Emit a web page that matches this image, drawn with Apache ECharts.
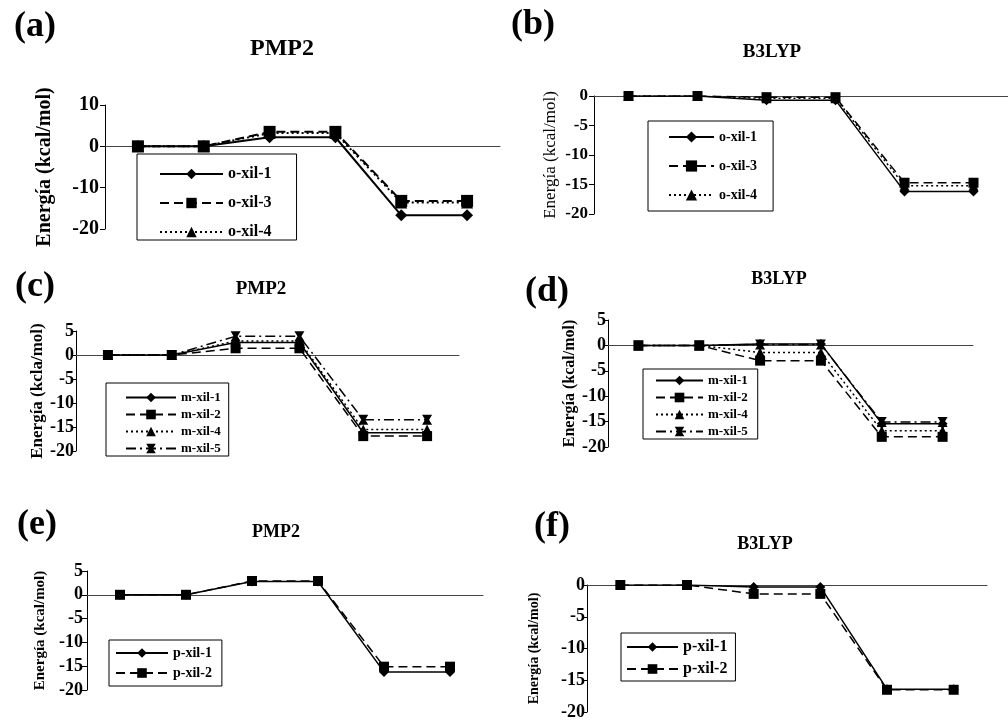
<!DOCTYPE html>
<html>
<head>
<meta charset="utf-8">
<script src="https://cdn.jsdelivr.net/npm/echarts@6/dist/echarts.min.js"></script>
<style>
html,body{margin:0;padding:0;background:#fff;}
#chart{width:1008px;height:721px;}
</style>
</head>
<body>
<div id="chart"></div>
<script>
// ---- data ----
var categories = ['1', '2', '3', '4', '5', '6'];

var a_oxil1 = [0, 0, 2.2, 2.2, -16.7, -16.7];
var a_oxil3 = [0, 0, 3.5, 3.5, -13.2, -13.2];
var a_oxil4 = [0, 0, 3.2, 3.2, -13.6, -13.6];

var b_oxil1 = [0, 0, -0.7, -0.7, -16.2, -16.2];
var b_oxil3 = [0, 0, -0.2, -0.2, -14.7, -14.7];
var b_oxil4 = [0, 0, -0.4, -0.4, -15.2, -15.2];

var c_mxil1 = [0, 0, 2.6, 2.6, -16.2, -16.2];
var c_mxil2 = [0, 0, 1.4, 1.4, -16.9, -16.9];
var c_mxil4 = [0, 0, 2.9, 2.9, -15.5, -15.5];
var c_mxil5 = [0, 0, 3.9, 3.9, -13.5, -13.5];

var d_mxil1 = [0, 0, 0.3, 0.3, -15.4, -15.4];
var d_mxil2 = [0, 0, -3.0, -3.0, -18.0, -18.0];
var d_mxil4 = [0, 0, -1.4, -1.4, -16.8, -16.8];
var d_mxil5 = [0, 0, 0.2, 0.2, -15.1, -15.1];

var e_pxil1 = [0, 0, 2.8, 2.8, -16.2, -16.2];
var e_pxil2 = [0, 0, 2.9, 2.9, -15.1, -15.1];

var f_pxil1 = [0, 0, -0.3, -0.3, -16.4, -16.4];
var f_pxil2 = [0, 0, -1.4, -1.4, -16.5, -16.5];

// y-axis ranges [min, max, interval]
var aRange = [-20, 10, 10];
var bRange = [-20, 0, 5];
var cRange = [-20, 5, 5];
var dRange = [-20, 5, 5];
var eRange = [-20, 5, 5];
var fRange = [-20, 0, 5];

var panelLabels = ['(a)', '(b)', '(c)', '(d)', '(e)', '(f)'];
var panelTitles = ['PMP2', 'B3LYP', 'PMP2', 'B3LYP', 'PMP2', 'B3LYP'];
var yNames = ['Energía (kcal/mol)', 'Energía (kcal/mol)', 'Energía (kcla/mol)',
              'Energía (kcal/mol)', 'Energía (kcal/mol)', 'Energía (kcal/mol)'];

// ---- styles ----
var FONT = '"Liberation Serif", "DejaVu Serif", serif';
var STAR = 'path://M0,0 L10,0 L7,5 L10,10 L0,10 L3,5 Z';
var styleSolidDiamond = {symbol: 'diamond', type: 'solid'};
var styleDashSquare = {symbol: 'rect', type: [9, 5]};
var styleDotTriangle = {symbol: 'triangle', type: [2, 3]};
var styleDashDotStar = {symbol: STAR, type: [10, 4, 2, 4]};

var panels = [
  {grid: {left: 105, top: 105, width: 395, height: 124}, range: aRange, tickFont: 20, tickMargin: 6,
   nameFont: 20, nameBold: 'bold', nameGap: 50, lw: 2, sym: 12,
   legend: {left: 137, top: 154, padding: [12, 25, 0, 22], itemWidth: 63, itemHeight: 13, itemGap: 13, fontSize: 16},
   series: [['o-xil-1', a_oxil1, styleSolidDiamond], ['o-xil-3', a_oxil3, styleDashSquare], ['o-xil-4', a_oxil4, styleDotTriangle]]},
  {grid: {left: 594, top: 96, width: 425, height: 118}, range: bRange, tickFont: 17, tickMargin: 6,
   nameFont: 17, nameBold: 'normal', nameGap: 35, lw: 1.5, sym: 10,
   legend: {left: 648, top: 121, padding: [9, 16, 9, 20], itemWidth: 45, itemHeight: 14, itemGap: 15, fontSize: 14},
   series: [['o-xil-1', b_oxil1, styleSolidDiamond], ['o-xil-3', b_oxil3, styleDashSquare], ['o-xil-4', b_oxil4, styleDotTriangle]]},
  {grid: {left: 76, top: 331, width: 383, height: 120}, range: cRange, tickFont: 18, tickMargin: 2,
   nameFont: 17, nameBold: 'bold', nameGap: 29, lw: 1.5, sym: 10,
   legend: {left: 106, top: 383, padding: [8, 8, 1, 19], itemWidth: 50, itemHeight: 12, itemGap: 4, fontSize: 13},
   series: [['m-xil-1', c_mxil1, styleSolidDiamond], ['m-xil-2', c_mxil2, styleDashSquare], ['m-xil-4', c_mxil4, styleDotTriangle], ['m-xil-5', c_mxil5, styleDashDotStar]]},
  {grid: {left: 608, top: 320, width: 365, height: 127}, range: dRange, tickFont: 18, tickMargin: 2,
   nameFont: 16, nameBold: 'bold', nameGap: 28, lw: 1.5, sym: 10,
   legend: {left: 643, top: 369, padding: [5, 10, 1, 12], itemWidth: 47, itemHeight: 12, itemGap: 4, fontSize: 13},
   series: [['m-xil-1', d_mxil1, styleSolidDiamond], ['m-xil-2', d_mxil2, styleDashSquare], ['m-xil-4', d_mxil4, styleDotTriangle], ['m-xil-5', d_mxil5, styleDashDotStar]]},
  {grid: {left: 87, top: 571, width: 396, height: 119}, range: eRange, tickFont: 18, tickMargin: 4,
   nameFont: 15, nameBold: 'bold', nameGap: 39, lw: 1.5, sym: 10,
   legend: {left: 109, top: 640, padding: [6, 10, 6, 6], itemWidth: 52, itemHeight: 12, itemGap: 6, fontSize: 14},
   series: [['p-xil-1', e_pxil1, styleSolidDiamond], ['p-xil-2', e_pxil2, styleDashSquare]]},
  {grid: {left: 587, top: 585, width: 400, height: 129}, range: fRange, tickFont: 18, tickMargin: 2,
   nameFont: 14, nameBold: 'bold', nameGap: 46, lw: 1.5, sym: 10,
   legend: {left: 621, top: 633, padding: [6, 8, 4, 5], itemWidth: 51, itemHeight: 12, itemGap: 6, fontSize: 16},
   series: [['p-xil-1', f_pxil1, styleSolidDiamond], ['p-xil-2', f_pxil2, styleDashSquare]]}
];

var titlePos = [
  {x: 277, y: 32, size: 24}, {x: 767, y: 38, size: 19},
  {x: 256, y: 275, size: 19}, {x: 774, y: 265, size: 18},
  {x: 271, y: 518, size: 18}, {x: 760, y: 530, size: 18}
];
var labelPos = [
  {x: 30, y: 4}, {x: 528, y: 2}, {x: 30, y: 264}, {x: 542, y: 269}, {x: 32, y: 502}, {x: 547, y: 504}
];

var option = {
  animation: false,
  backgroundColor: '#fff',
  title: [], grid: [], xAxis: [], yAxis: [], legend: [], series: []
};

panels.forEach(function (p, i) {
  option.title.push({
    text: panelTitles[i], left: titlePos[i].x, top: titlePos[i].y, textAlign: 'center',
    textStyle: {fontFamily: FONT, fontWeight: 'bold', fontSize: titlePos[i].size, color: '#000'}
  });
  option.title.push({
    text: panelLabels[i], left: labelPos[i].x, top: labelPos[i].y, textAlign: 'center',
    textStyle: {fontFamily: FONT, fontWeight: 'bold', fontSize: 36, color: '#000'}
  });
  option.grid.push(p.grid);
  option.xAxis.push({
    type: 'category', gridIndex: i, data: categories, boundaryGap: true,
    axisLine: {show: true, onZero: true, lineStyle: {color: '#444', width: 1}},
    axisTick: {show: false}, axisLabel: {show: false}, splitLine: {show: false}
  });
  option.yAxis.push({
    type: 'value', gridIndex: i, min: p.range[0], max: p.range[1], interval: p.range[2],
    name: yNames[i], nameLocation: 'middle', nameRotate: 90, nameGap: p.nameGap,
    nameTextStyle: {fontFamily: FONT, fontWeight: p.nameBold, fontSize: p.nameFont, color: '#000'},
    axisLine: {show: true, lineStyle: {color: '#000', width: 1}},
    axisTick: {show: true, inside: false, length: 5, lineStyle: {color: '#000'}},
    axisLabel: {fontFamily: FONT, fontWeight: 'bold', fontSize: p.tickFont, color: '#000', margin: p.tickMargin},
    splitLine: {show: false}
  });
  var names = [];
  p.series.forEach(function (s) {
    names.push(s[0]);
    option.series.push({
      type: 'line', name: s[0], xAxisIndex: i, yAxisIndex: i, data: s[1],
      symbol: s[2].symbol, symbolSize: p.sym, showSymbol: true,
      itemStyle: {color: '#000', borderWidth: 0},
      lineStyle: {color: '#000', width: p.lw, type: s[2].type},
      emphasis: {disabled: true}
    });
  });
  var L = p.legend;
  option.legend.push({
    data: names, orient: 'vertical', left: L.left, top: L.top, padding: L.padding,
    itemWidth: L.itemWidth, itemHeight: L.itemHeight, itemGap: L.itemGap,
    borderColor: '#000', borderWidth: 1, backgroundColor: '#fff', selectedMode: false,
    textStyle: {fontFamily: FONT, fontWeight: 'bold', fontSize: L.fontSize, color: '#000'}
  });
});

var chart = echarts.init(document.getElementById('chart'), null, {renderer: 'canvas'});
chart.setOption(option);
</script>
</body>
</html>
